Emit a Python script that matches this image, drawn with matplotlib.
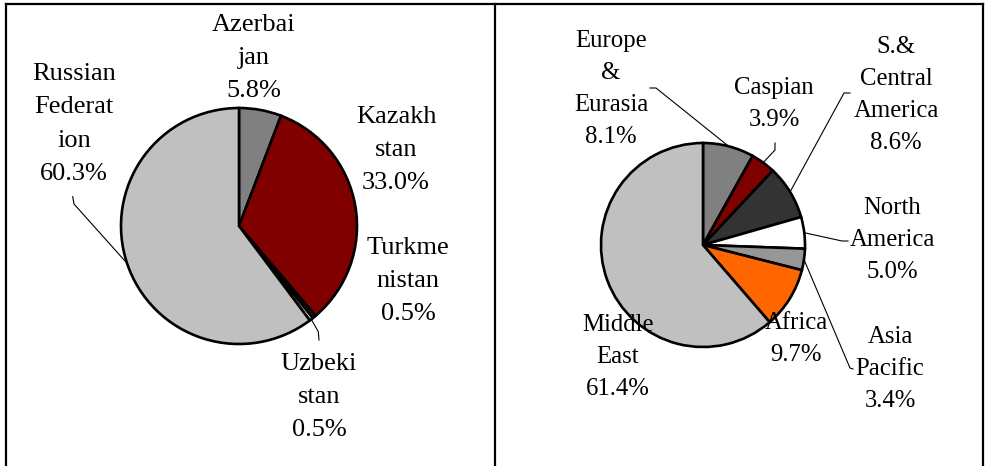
import numpy as np
import matplotlib.pyplot as plt

# ============================================================
# Data
# ============================================================
left_names = ["Azerbai\njan", "Kazakh\nstan", "Turkme\nnistan", "Uzbeki\nstan", "Russian\nFederat\nion"]
left_values = [5.8, 33.0, 0.5, 0.5, 60.3]
left_colors = ["#808080", "#800000", "#1a1a1a", "#ffffff", "#c0c0c0"]

right_names = ["Europe\n&\nEurasia", "Caspian", "S.&\nCentral\nAmerica", "North\nAmerica",
               "Asia\nPacific", "Africa", "Middle\nEast"]
right_values = [8.1, 3.9, 8.6, 5.0, 3.4, 9.7, 61.4]
right_colors = ["#808080", "#800000", "#333333", "#ffffff", "#969696", "#ff6600", "#c0c0c0"]

# ============================================================
# Layout (pixel coords, y measured from the top)
# ============================================================
W, H = 986, 466
FONT = "Liberation Serif"

left_center, left_radius = (239, 226), 118
right_center, right_radius = (703, 245), 102

left_label_pos = [(254, 58), (396, 150), (408, 281), (319, 397), (74, 124)]
right_label_pos = [(611, 89), (774, 104), (896, 95), (892, 240), (890, 369), (796, 339), (618, 357)]

# leader elbows: label-side points, in order from the label towards the pie
left_leaders = {4: [(72.7, 196.7), (74, 204)], 3: [(319, 340), (318.3, 331.7)]}
right_leaders = {0: [(650, 88), (656, 88)], 1: [(775, 143), (775, 150)],
                 2: [(850, 93), (844, 93)], 3: [(848, 241), (842, 241)],
                 4: [(853, 369), (850, 368)]}


def py(y):
    return H - y


def draw_pie(ax, values, names, colors, center, radius, label_pos, leaders, fs, ls):
    cx, cy = center[0], py(center[1])
    wedges, _ = ax.pie(values, colors=colors, center=(cx, cy), radius=radius,
                       startangle=90, counterclock=False,
                       wedgeprops=dict(edgecolor="black", linewidth=1.9))
    for i, w in enumerate(wedges):
        lx, ly = label_pos[i]
        ax.text(lx, py(ly), f"{names[i]}\n{values[i]:.1f}%", ha="center", va="center",
                multialignment="center", fontsize=fs, family=FONT, linespacing=ls,
                zorder=5)
        if i in leaders:
            mid = np.deg2rad((w.theta1 + w.theta2) / 2)
            ex, ey = cx + radius * np.cos(mid), cy + radius * np.sin(mid)
            pts = leaders[i]
            xs = [p[0] for p in pts] + [ex]
            ys = [py(p[1]) for p in pts] + [ey]
            ax.plot(xs, ys, color="black", linewidth=0.8, zorder=6)


fig = plt.figure(figsize=(W / 100, H / 100), dpi=100)
ax = fig.add_axes([0, 0, 1, 1])
ax.set_xlim(0, W)
ax.set_ylim(0, H)
ax.axis("off")

draw_pie(ax, left_values, left_names, left_colors, left_center, left_radius,
         left_label_pos, left_leaders, 19, 1.66)
draw_pie(ax, right_values, right_names, right_colors, right_center, right_radius,
         right_label_pos, right_leaders, 17.8, 1.6)
ax.set_aspect("equal")
ax.set_xlim(0, W)
ax.set_ylim(0, H)

# table frame
frame = dict(color="black", linewidth=1.6, solid_capstyle="projecting")
ax.plot([6, 983], [py(4), py(4)], **frame)
for x in (6, 495, 983):
    ax.plot([x, x], [py(4), 0], **frame)

fig.savefig("out.png", dpi=100)
